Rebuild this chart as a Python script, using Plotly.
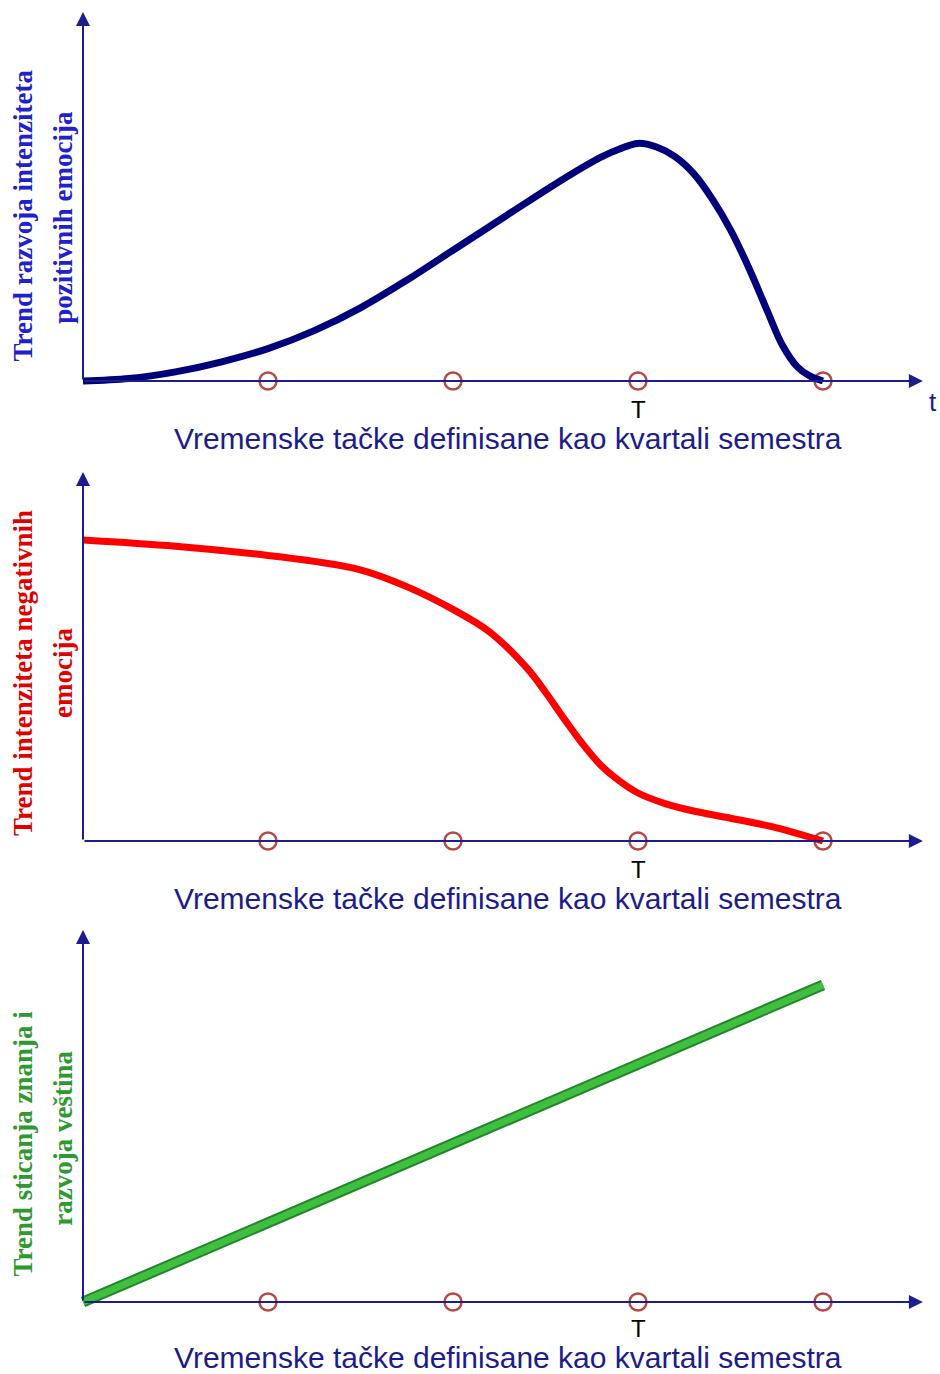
import plotly.graph_objects as go

# ---------------- data ----------------
quarters = [1, 2, 3, 4]
quarter_level = [0, 0, 0, 0]

pos_x = [0, 0.25, 0.5, 0.75, 1.0, 1.25, 1.5, 1.75, 2.0, 2.25, 2.5, 2.65, 2.8, 2.9,
         3.0, 3.1, 3.2, 3.3, 3.4, 3.5, 3.6, 3.7, 3.78, 3.86, 3.93, 4.0]
pos_y = [0, 0.01, 0.038, 0.08, 0.135, 0.21, 0.305, 0.42, 0.545, 0.67, 0.795, 0.867, 0.933, 0.967,
         0.99, 0.975, 0.935, 0.865, 0.76, 0.63, 0.47, 0.29, 0.15, 0.06, 0.02, 0]

neg_x = [0, 0.5, 1.0, 1.25, 1.5, 1.75, 2.0, 2.2, 2.4, 2.5, 2.6, 2.7, 2.8, 2.9,
         3.0, 3.15, 3.3, 3.5, 3.75, 4.0]
neg_y = [1.254, 1.228, 1.19, 1.165, 1.13, 1.06, 0.965, 0.87, 0.72, 0.62, 0.51, 0.405, 0.315, 0.25,
         0.2, 0.155, 0.125, 0.095, 0.055, 0]

skill_x = [0, 4]
skill_y = [0, 1.321]

y_titles = [
    ("Trend razvoja intenziteta", "pozitivnih emocija", "#2020cc", 0.69, 0.68),
    ("Trend intenziteta negativnih", "emocija", "#e00000", 0.70, 0.70),
    ("Trend sticanja znanja i", "razvoja veština", "#2e992e", 0.66, 0.68),
]
x_title = "Vremenske tačke definisane kao kvartali semestra"
t_label = "T"
t_pos = 3

# ---------------- layout constants ----------------
W, H = 940, 1374
ORIGIN_PX = 83
UNIT_X = 185.0
UNIT_Y = 240.0
AXIS_COL = "#1c1c8a"
MARK_COL = "#b84a44"

panels = [  # (top px, bottom px, baseline px, title shift, T shift)
    (0, 460, 381, -57, -28),
    (460, 921, 841, -57, -28),
    (921, 1374, 1302, -55, -26),
]
y_tips = [1.5375, 1.5375, 1.55]

fig = go.Figure()
layout = dict(
    width=W, height=H, margin=dict(l=0, r=0, t=0, b=0),
    paper_bgcolor="white", plot_bgcolor="white", showlegend=False,
)

x_range = [-ORIGIN_PX / UNIT_X, (W - ORIGIN_PX) / UNIT_X]
annotations = []
for i, (top, bot, base, tshift, Tshift) in enumerate(panels):
    sfx = "" if i == 0 else str(i + 1)
    layout["xaxis" + sfx] = dict(domain=[0, 1], range=x_range, visible=False,
                                 anchor="y" + sfx, fixedrange=True)
    layout["yaxis" + sfx] = dict(domain=[1 - bot / H, 1 - top / H],
                                 range=[(base - bot) / UNIT_Y, (base - top) / UNIT_Y],
                                 visible=False, anchor="x" + sfx, fixedrange=True)
    xr, yr = "x" + sfx, "y" + sfx
    # axis arrows
    annotations.append(dict(x=4.54, y=0, ax=0, ay=0, xref=xr, yref=yr, axref=xr, ayref=yr,
                            text="", showarrow=True, arrowhead=2, arrowsize=1.4,
                            arrowwidth=2, arrowcolor=AXIS_COL, standoff=0))
    annotations.append(dict(x=0, y=y_tips[i], ax=0, ay=0, xref=xr, yref=yr, axref=xr, ayref=yr,
                            text="", showarrow=True, arrowhead=2, arrowsize=1.4,
                            arrowwidth=2, arrowcolor=AXIS_COL, standoff=0))
    # T label
    annotations.append(dict(x=t_pos, y=0, xref=xr, yref=yr, yshift=Tshift, text=t_label,
                            showarrow=False, borderpad=0, xanchor="center", yanchor="middle",
                            font=dict(family="Liberation Sans, Arial", size=24, color="black")))
    # x title
    annotations.append(dict(x=(508 - ORIGIN_PX) / UNIT_X, y=0, xref=xr, yref=yr, yshift=tshift,
                            text=x_title, showarrow=False, xanchor="center", yanchor="middle",
                            borderpad=0,
                            font=dict(family="Liberation Sans, Arial", size=30, color=AXIS_COL)))
    # y titles (two lines)
    l1, l2, col, c1, c2 = y_titles[i]
    annotations.append(dict(x=23 / W, y=c1, xref="paper", yref=yr, text=l1, textangle=-90,
                            showarrow=False, xanchor="center", yanchor="middle",
                            font=dict(family="Liberation Serif, Times New Roman", size=27,
                                      color=col, weight="bold")))
    annotations.append(dict(x=63 / W, y=c2, xref="paper", yref=yr, text=l2, textangle=-90,
                            showarrow=False, xanchor="center", yanchor="middle",
                            font=dict(family="Liberation Serif, Times New Roman", size=27,
                                      color=col, weight="bold")))
    # quarter markers
    fig.add_trace(go.Scatter(x=quarters, y=quarter_level, xaxis=xr, yaxis=yr, mode="markers",
                             marker=dict(symbol="circle", size=17, color="white",
                                         line=dict(color=MARK_COL, width=2.5)),
                             hoverinfo="skip"))

# "t" label on first axis
annotations.append(dict(x=(933 - ORIGIN_PX) / UNIT_X, y=0, xref="x", yref="y", yshift=-21,
                        text="t", showarrow=False,
                        font=dict(family="Liberation Sans, Arial", size=26, color=AXIS_COL)))

# curves
fig.add_trace(go.Scatter(x=pos_x, y=pos_y, xaxis="x", yaxis="y", mode="lines",
                         line=dict(color="#00007a", width=7, shape="spline", smoothing=1.0),
                         hoverinfo="skip"))
fig.add_trace(go.Scatter(x=neg_x, y=neg_y, xaxis="x2", yaxis="y2", mode="lines",
                         line=dict(color="#ff0000", width=7, shape="spline", smoothing=1.0),
                         hoverinfo="skip"))
fig.add_trace(go.Scatter(x=skill_x, y=skill_y, xaxis="x3", yaxis="y3", mode="lines",
                         line=dict(color="#23862a", width=11), hoverinfo="skip"))
fig.add_trace(go.Scatter(x=skill_x, y=skill_y, xaxis="x3", yaxis="y3", mode="lines",
                         line=dict(color="#3fbf3f", width=7), hoverinfo="skip"))

layout["annotations"] = annotations
fig.update_layout(**layout)
fig.write_html("out.html", config={"displayModeBar": False},
               post_script="document.body.style.margin='0';document.body.style.overflow='hidden';")
